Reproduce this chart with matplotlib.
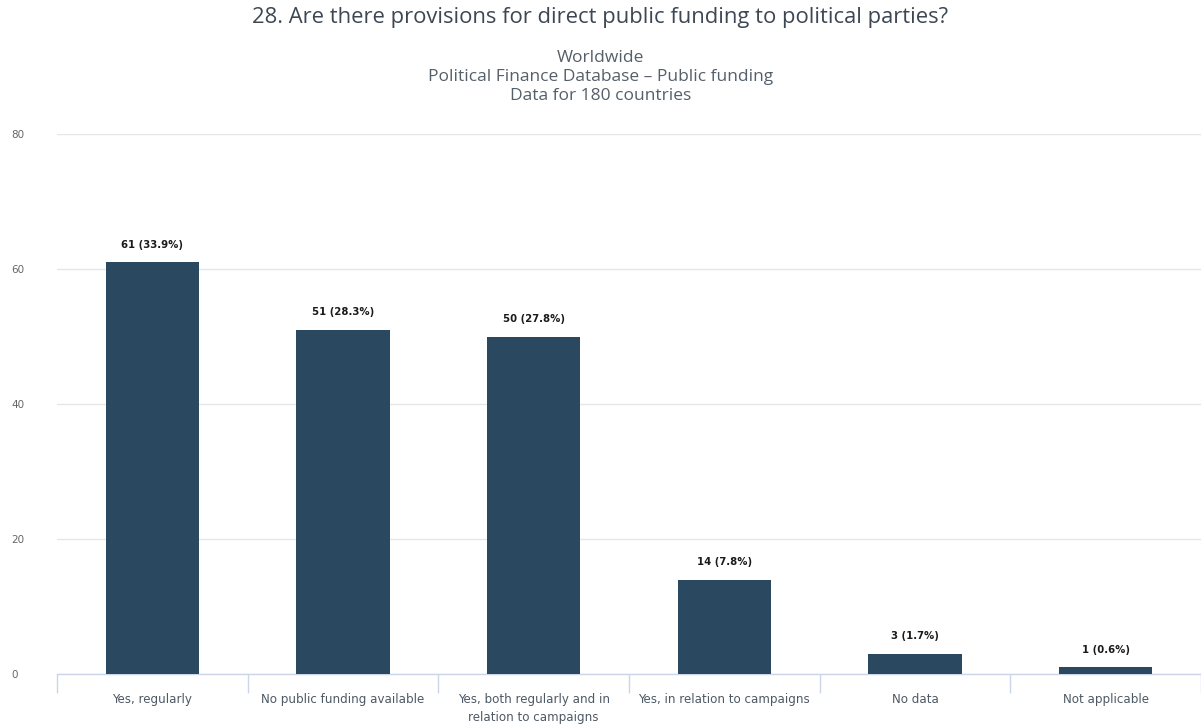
import numpy as np
import matplotlib
matplotlib.use('Agg')
import matplotlib.pyplot as plt

# Data
categories = ['Yes, regularly', 'No public funding available',
              'Yes, both regularly and in\nrelation to campaigns',
              'Yes, in relation to campaigns', 'No data', 'Not applicable']
counts = [61, 51, 50, 14, 3, 1]
labels = ['61 (33.9%)', '51 (28.3%)', '50 (27.8%)', '14 (7.8%)', '3 (1.7%)', '1 (0.6%)']
yticks = [0, 20, 40, 60, 80]

bar_color = '#2b4861'
text_color = '#4d5965'

fig = plt.figure(figsize=(12.01, 7.24), dpi=100)
ax = fig.add_axes([57/1201, 1 - 674/724, 1 - 57/1201, (674 - 134)/724])

x = np.arange(len(categories))
ax.bar(x, counts, width=0.49, color=bar_color, zorder=3)

for xi, c, lab in zip(x, counts, labels):
    ax.annotate(lab, (xi, c), xytext=(0, 9), textcoords='offset points',
                ha='center', va='bottom', fontsize=7.3, fontweight='bold',
                color='#1a1a1a')

ax.set_xlim(-0.5, len(categories) - 0.5)
ax.set_ylim(0, 80)
ax.set_yticks(yticks)
ax.yaxis.grid(True, color='#e6e6e6', linewidth=1, zorder=0)
ax.tick_params(axis='y', length=0, pad=33, labelsize=7.5, labelcolor='#666666')
for lbl in ax.get_yticklabels():
    lbl.set_horizontalalignment('left')

ax.set_xticks(x)
ax.set_xticklabels(categories, fontsize=8.6, color=text_color, linespacing=1.45)
ax.tick_params(axis='x', which='major', length=0, pad=14)
ax.set_xticks(np.arange(-0.5, len(categories), 1), minor=True)
ax.tick_params(axis='x', which='minor', length=14, width=1, color='#ccd6eb')

for s in ['top', 'right', 'left']:
    ax.spines[s].set_visible(False)
ax.spines['bottom'].set_color('#ccd6eb')
ax.spines['bottom'].set_linewidth(1)

fig.text(0.5, 1 - 17/724, '28. Are there provisions for direct public funding to political parties?',
         ha='center', va='center', fontsize=15.8, color='#3d4753', family='Open Sans')
fig.text(0.5, 1 - 77/724, 'Worldwide\nPolitical Finance Database \u2013 Public funding\nData for 180 countries',
         ha='center', va='center', fontsize=12.5, color='#555f69', family='Open Sans',
         linespacing=1.25)

fig.savefig('out.png', dpi=100, facecolor='white')
